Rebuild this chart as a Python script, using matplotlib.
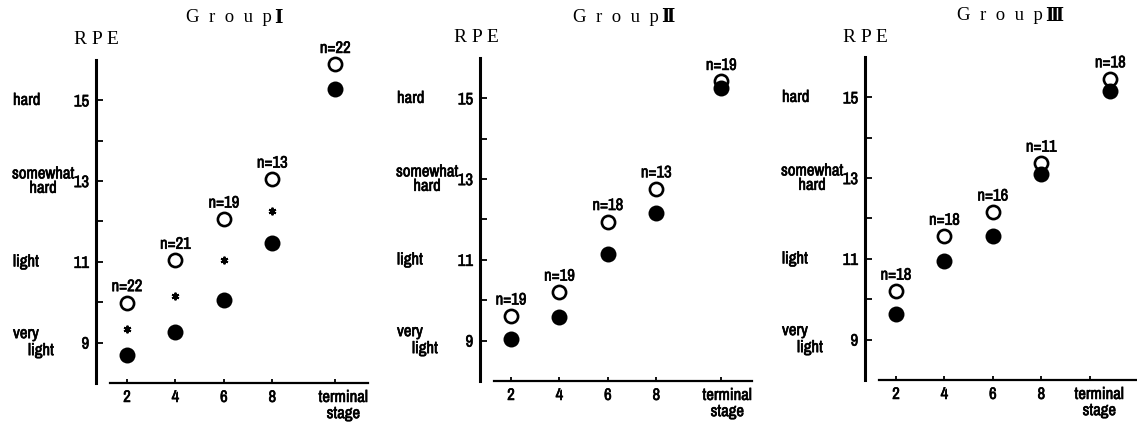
import matplotlib
matplotlib.use('Agg')
import matplotlib.pyplot as plt
from matplotlib import font_manager
from matplotlib import patheffects as pe
from matplotlib.transforms import ScaledTranslation

# ---------------- data ----------------
stage_ticks = [2, 4, 6, 8]
stage_labels = ['2', '4', '6', '8', 'terminal\nstage']

g1_open = [9.99, 11.04, 12.06, 13.05, 15.89]
g1_fill = [8.70, 9.26, 10.05, 11.46, 15.27]
g1_n = [22, 21, 19, 13, 22]
g1_sig = [True, True, True, True, False]

g2_open = [9.61, 10.20, 11.95, 12.76, 15.42]
g2_fill = [9.03, 9.59, 11.15, 12.16, 15.26]
g2_n = [19, 19, 18, 13, 19]
g2_sig = [False, False, False, False, False]

g3_open = [10.20, 11.56, 12.16, 13.37, 15.46]
g3_fill = [9.64, 10.94, 11.56, 13.10, 15.16]
g3_n = [18, 18, 16, 11, 18]
g3_sig = [False, False, False, False, False]

title_word = 'G  r  o  u  p'
group_numerals = ['\u2160', '\u2161', '\u2162']
rpe_ticks = [9, 11, 13, 15]
rpe_minor = [10, 12, 14]

# ---------------- fonts ----------------
names = {f.name for f in font_manager.fontManager.ttflist}
NARROW = None
for cand in ['Archivo Narrow', 'Liberation Sans Narrow', 'Roboto Condensed', 'PT Sans Narrow']:
    if cand in names:
        NARROW = cand
        break
if NARROW is None:
    NARROW = 'DejaVu Sans'
    LABEL_FS = 9.5
else:
    LABEL_FS = 12
plt.rcParams['font.family'] = [NARROW, 'DejaVu Sans']
SERIF = ['Liberation Serif', 'DejaVu Serif']
NUMF = ['DejaVu Serif', 'Noto Sans CJK JP']
BOLDEN = [pe.withStroke(linewidth=0.45, foreground='black')]

W, H, DPI = 1137, 423, 100
fig = plt.figure(figsize=(W / DPI, H / DPI), dpi=DPI)
PT = 72.0 / DPI  # points per pixel

XMIN, XMAX = 0.72, 11.95
AX_W = 272

panels = [
    dict(open=g1_open, fill=g1_fill, n=g1_n, sig=g1_sig, num=group_numerals[0],
         left=96, top=60, bottom=383, term_x=10.60, term_tick=10.60, term_lab_dx=8,
         title_left=186, title_y=18, rpe_xy=(96, 39)),
    dict(open=g2_open, fill=g2_fill, n=g2_n, sig=g2_sig, num=group_numerals[1],
         left=480, top=58, bottom=381, term_x=10.68, term_tick=10.68, term_lab_dx=6,
         title_left=573, title_y=17, rpe_xy=(476, 38)),
    dict(open=g3_open, fill=g3_fill, n=g3_n, sig=g3_sig, num=group_numerals[2],
         left=865, top=57, bottom=380, term_x=10.85, term_tick=10.02, term_lab_dx=9,
         title_left=957, title_y=16, rpe_xy=(865, 37)),
]

renderer = fig.canvas.get_renderer()

for p in panels:
    ax = fig.add_axes([p['left'] / W, 1 - p['bottom'] / H, AX_W / W,
                       (p['bottom'] - p['top']) / H])
    ax.set_xlim(XMIN, XMAX)
    ax.set_ylim(8, 16)
    ax.patch.set_alpha(0)
    for s in ['top', 'right']:
        ax.spines[s].set_visible(False)
    ax.spines['left'].set_linewidth(2.2)
    ax.spines['bottom'].set_linewidth(1.6)
    ax.spines['bottom'].set_bounds(1.3, XMAX)

    ax.set_yticks(rpe_ticks)
    ax.set_yticklabels([str(v) for v in rpe_ticks])
    ax.set_yticks(rpe_minor, minor=True)
    ax.tick_params(axis='y', which='both', direction='in', length=5, width=1.3,
                   pad=5, labelsize=LABEL_FS)

    xs = stage_ticks + [p['term_x']]
    ax.set_xticks(stage_ticks + [p['term_tick']])
    ax.set_xticklabels(stage_labels, linespacing=1.1)
    ax.tick_params(axis='x', direction='in', length=3, width=1.3, pad=5,
                   labelsize=LABEL_FS)
    lab = ax.get_xticklabels()[-1]
    lab.set_transform(lab.get_transform() +
                      ScaledTranslation(p['term_lab_dx'] / DPI, 0, fig.dpi_scale_trans))
    for t in ax.get_xticklabels() + ax.get_yticklabels():
        t.set_path_effects(BOLDEN)

    # points
    ax.plot(xs, p['open'], linestyle='none', marker='o', ms=9.5, mew=1.9,
            mfc='white', mec='black', zorder=3, clip_on=False)
    ax.plot(xs, p['fill'], linestyle='none', marker='o', ms=11.5, mew=0,
            mfc='black', zorder=4, clip_on=False)

    # significance asterisks
    for x, o, f, s in zip(xs, p['open'], p['fill'], p['sig']):
        if s:
            ax.plot([x], [(o + f) / 2], linestyle='none', marker=(6, 2, 0),
                    ms=5.5, mew=1.4, color='black', zorder=5)

    # n labels
    for x, o, n in zip(xs, p['open'], p['n']):
        ax.annotate(f'n={n}', xy=(x, o), xytext=(0, 16 * PT),
                    textcoords='offset points', ha='center', va='center',
                    fontsize=LABEL_FS, annotation_clip=False,
                    path_effects=BOLDEN)

    # verbal anchors on RPE axis
    def anchor(text, y, dx_px, dy_px=0, **kw):
        ax.annotate(text, xy=(0, y), xycoords=('axes fraction', 'data'),
                    xytext=(dx_px * PT, dy_px * PT), textcoords='offset points',
                    ha='left', va='center', fontsize=LABEL_FS,
                    annotation_clip=False, path_effects=BOLDEN, **kw)

    anchor('hard', 15, -83)
    anchor('somewhat\nhard', 13, -84, multialignment='center', linespacing=0.95)
    anchor('light', 11, -83)
    anchor('very', 9, -83, dy_px=9)
    anchor('light', 9, -68, dy_px=-8)

    # title and axis name
    word = fig.text(p['title_left'] / W, 1 - p['title_y'] / H, title_word, ha='left',
                    va='center', fontsize=13.5, family=SERIF)
    bb = word.get_window_extent(renderer=renderer)
    fig.text((bb.x1 + 2) / W, 1 - p['title_y'] / H, p['num'], ha='left',
             va='center', fontsize=13, family=NUMF, fontweight='bold')
    fig.text(p['rpe_xy'][0] / W, 1 - p['rpe_xy'][1] / H, 'R P E',
             ha='center', va='center', fontsize=14, family=SERIF)

fig.savefig('out.png', dpi=DPI)
